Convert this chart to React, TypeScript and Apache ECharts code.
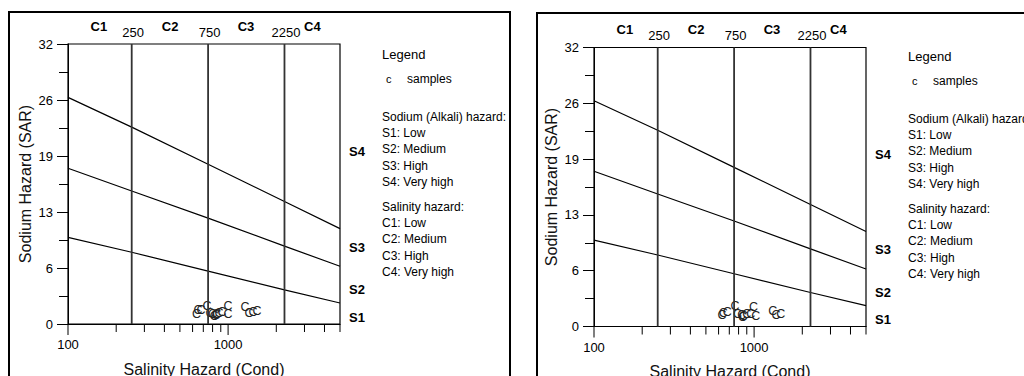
import React, { useEffect, useRef } from 'react';
import * as echarts from 'echarts';

// ---- data ----
const ecMin = 100;
const ecMax = 5000;
const sarMin = 0;
const sarMax = 32;
const sarInterval = 6.4;

const salinityBounds = [250, 750, 2250];
const salinityBoundLabels = ['250', '750', '2250'];
const salinityClasses = ['C1', 'C2', 'C3', 'C4'];
const salinityClassAt = [156, 434, 1294, 3360];

const hazardLineEC = [100, 250, 750, 2250, 5000];
const lineS3S4 = [25.9, 22.5, 18.25, 14.0, 10.9];
const lineS2S3 = [17.8, 15.2, 12.1, 8.9, 6.6];
const lineS1S2 = [9.9, 8.2, 6.05, 3.9, 2.4];

const sodiumClasses = ['S4', 'S3', 'S2', 'S1'];
const sodiumClassAt = [19.7, 8.8, 3.9, 0.8];

const xMajorTicks = [100, 1000];
const xMinorTicks = [200, 300, 400, 500, 600, 700, 800, 900, 2000, 3000, 4000, 5000];

const samplesLeft: number[][] = [
  [635, 1.2], [648, 1.55], [678, 1.6], [739, 2.05], [772, 1.26], [800, 1.1],
  [820, 0.95], [841, 1.0], [850, 1.15], [879, 1.26], [917, 1.37], [1000, 2.06],
  [1000, 1.14], [1277, 1.94], [1352, 1.26], [1432, 1.37], [1517, 1.49],
];
const samplesRight: number[][] = [
  [630, 1.3], [642, 1.6], [681, 1.72], [760, 2.37], [787, 1.46], [837, 1.34],
  [847, 1.08], [860, 1.2], [899, 1.46], [953, 1.46], [991, 2.22], [1024, 1.23],
  [1308, 1.83], [1373, 1.34], [1468, 1.46],
];

const sampleGlyph = 'C';
const legendTitle = 'Legend';
const legendSymbol = 'c';
const legendSamples = 'samples';
const sodiumTitle = 'Sodium (Alkali) hazard:';
const sodiumItems = ['S1: Low', 'S2: Medium', 'S3: High', 'S4: Very high'];
const salinityTitle = 'Salinity hazard:';
const salinityItems = ['C1: Low', 'C2: Medium', 'C3: High', 'C4: Very high'];

const FONT = '"Liberation Sans", Arial, sans-serif';

function textAt(idx: number, data: number[][], texts: string[], dx: number, dy: number, size: number, bold: boolean, color = '#000', name?: string) {
  return {
    type: 'custom',
    name,
    xAxisIndex: idx,
    yAxisIndex: idx,
    silent: true,
    data,
    renderItem: (params: any, api: any) => {
      const p = api.coord([api.value(0), api.value(1)]);
      return {
        type: 'text',
        x: p[0] + dx,
        y: p[1] + dy,
        style: {
          text: texts[params.dataIndex % texts.length],
          fill: color,
          font: `${bold ? 'bold ' : ''}${size}px ${FONT}`,
          align: 'center',
          verticalAlign: 'middle',
        },
      };
    },
  };
}

function tickSeries(idx: number, values: number[], len: number) {
  return {
    type: 'custom',
    xAxisIndex: idx,
    yAxisIndex: idx,
    silent: true,
    clip: false,
    data: values.map((v) => [v, sarMin]),
    renderItem: (params: any, api: any) => {
      const p = api.coord([api.value(0), api.value(1)]);
      return {
        type: 'rect',
        shape: { x: p[0] - 0.5, y: p[1], width: 1, height: len },
        style: { fill: '#000' },
      };
    },
  };
}

function panelSeries(idx: number, samples: number[][]) {
  const zip = (vals: number[]) => hazardLineEC.map((x, i) => [x, vals[i]]);
  const s: any[] = [];
  [lineS3S4, lineS2S3, lineS1S2].forEach((vals) => {
    s.push({
      type: 'line', xAxisIndex: idx, yAxisIndex: idx, data: zip(vals),
      symbol: 'none', silent: true, lineStyle: { color: '#000', width: 1.2 },
    });
  });
  salinityBounds.forEach((b) => {
    s.push({
      type: 'line', xAxisIndex: idx, yAxisIndex: idx, data: [[b, sarMin], [b, sarMax]],
      symbol: 'none', silent: true, lineStyle: { color: '#333', width: 1.8 },
    });
  });
  s.push(textAt(idx, samples, [sampleGlyph], 0, 0, 12.5, false, '#222', 'samples'));
  s.push(tickSeries(idx, xMajorTicks, 11));
  s.push(tickSeries(idx, xMinorTicks, 8));
  s.push(textAt(idx, salinityBounds.map((b) => [b, sarMax]), salinityBoundLabels, 1.5, -12, 13, false));
  s.push(textAt(idx, salinityClassAt.map((b) => [b, sarMax]), salinityClasses, 0, -18, 13, true));
  s.push(textAt(idx, sodiumClassAt.map((v) => [ecMax, v]), sodiumClasses, 17, 0, 13, true));
  return s;
}

function legendGraphics(x: number, y: number) {
  const g: any[] = [];
  const t = (text: string, tx: number, ty: number, size = 12, bold = false) =>
    g.push({
      type: 'text', x: tx, y: ty,
      style: { text, fill: '#000', font: `${bold ? 'bold ' : ''}${size}px ${FONT}`, verticalAlign: 'middle', align: 'left' },
    });
  t(legendTitle, x, y, 13, false);
  t(legendSymbol, x + 4, y + 25, 11);
  t(legendSamples, x + 25, y + 25, 12);
  t(sodiumTitle, x, y + 63, 12);
  sodiumItems.forEach((s, i) => t(s, x, y + 79 + i * 16.3, 12));
  t(salinityTitle, x, y + 153, 12);
  salinityItems.forEach((s, i) => t(s, x, y + 169 + i * 16.3, 12));
  return g;
}

function xAxisCfg(gridIndex: number) {
  return {
    type: 'log', logBase: 10, gridIndex, min: ecMin, max: ecMax,
    name: 'Salinity Hazard (Cond)', nameLocation: 'middle', nameGap: 37,
    nameTextStyle: { fontSize: 16, color: '#111', fontFamily: FONT },
    axisLine: { show: true, lineStyle: { color: '#000', width: 1 } },
    axisTick: { show: false },
    splitLine: { show: false },
    axisLabel: {
      margin: 14, fontSize: 13, color: '#000', fontFamily: FONT,
      formatter: (v: number) => (xMajorTicks.includes(Math.round(v)) ? String(Math.round(v)) : ''),
    },
  };
}

function yAxisCfg(gridIndex: number) {
  return {
    type: 'value', gridIndex, min: sarMin, max: sarMax, interval: sarInterval,
    name: 'Sodium Hazard (SAR)', nameLocation: 'middle', nameGap: 35,
    nameTextStyle: { fontSize: 16, color: '#111', fontFamily: FONT },
    axisLine: { show: true, lineStyle: { color: '#000', width: 1 } },
    axisTick: { show: true, length: 11, lineStyle: { color: '#000' } },
    minorTick: { show: true, splitNumber: 2, length: 9, lineStyle: { color: '#000' } },
    splitLine: { show: false },
    axisLabel: {
      margin: 15, fontSize: 13, color: '#000', fontFamily: FONT,
      formatter: (v: number) => String(Math.round(v)),
    },
  };
}

export default function App() {
  const ref = useRef<HTMLDivElement>(null);
  useEffect(() => {
    if (!ref.current) return;
    const chart = echarts.init(ref.current, null, { renderer: 'svg' });
    chart.setOption({
      animation: false,
      backgroundColor: '#fff',
      textStyle: { fontFamily: FONT },
      grid: [
        { left: 68, top: 44, width: 272, height: 280, show: true, borderColor: '#000', borderWidth: 1.2, outerBoundsMode: 'none', containLabel: false },
        { left: 594, top: 47.5, width: 272, height: 279, show: true, borderColor: '#000', borderWidth: 1.2, outerBoundsMode: 'none', containLabel: false },
      ],
      xAxis: [xAxisCfg(0), xAxisCfg(1)],
      yAxis: [yAxisCfg(0), yAxisCfg(1)],
      series: [...panelSeries(0, samplesLeft), ...panelSeries(1, samplesRight)],
      graphic: [
        { type: 'rect', shape: { x: 9, y: 12, width: 501, height: 420 }, style: { fill: 'none', stroke: '#000', lineWidth: 2 } },
        { type: 'rect', shape: { x: 537, y: 13, width: 520, height: 420 }, style: { fill: 'none', stroke: '#000', lineWidth: 2 } },
        ...legendGraphics(382, 54),
        ...legendGraphics(908, 56),
      ],
    });
    return () => chart.dispose();
  }, []);
  return <div ref={ref} style={{ position: 'fixed', left: 0, top: 0, width: 1024, height: 376 }} />;
}
